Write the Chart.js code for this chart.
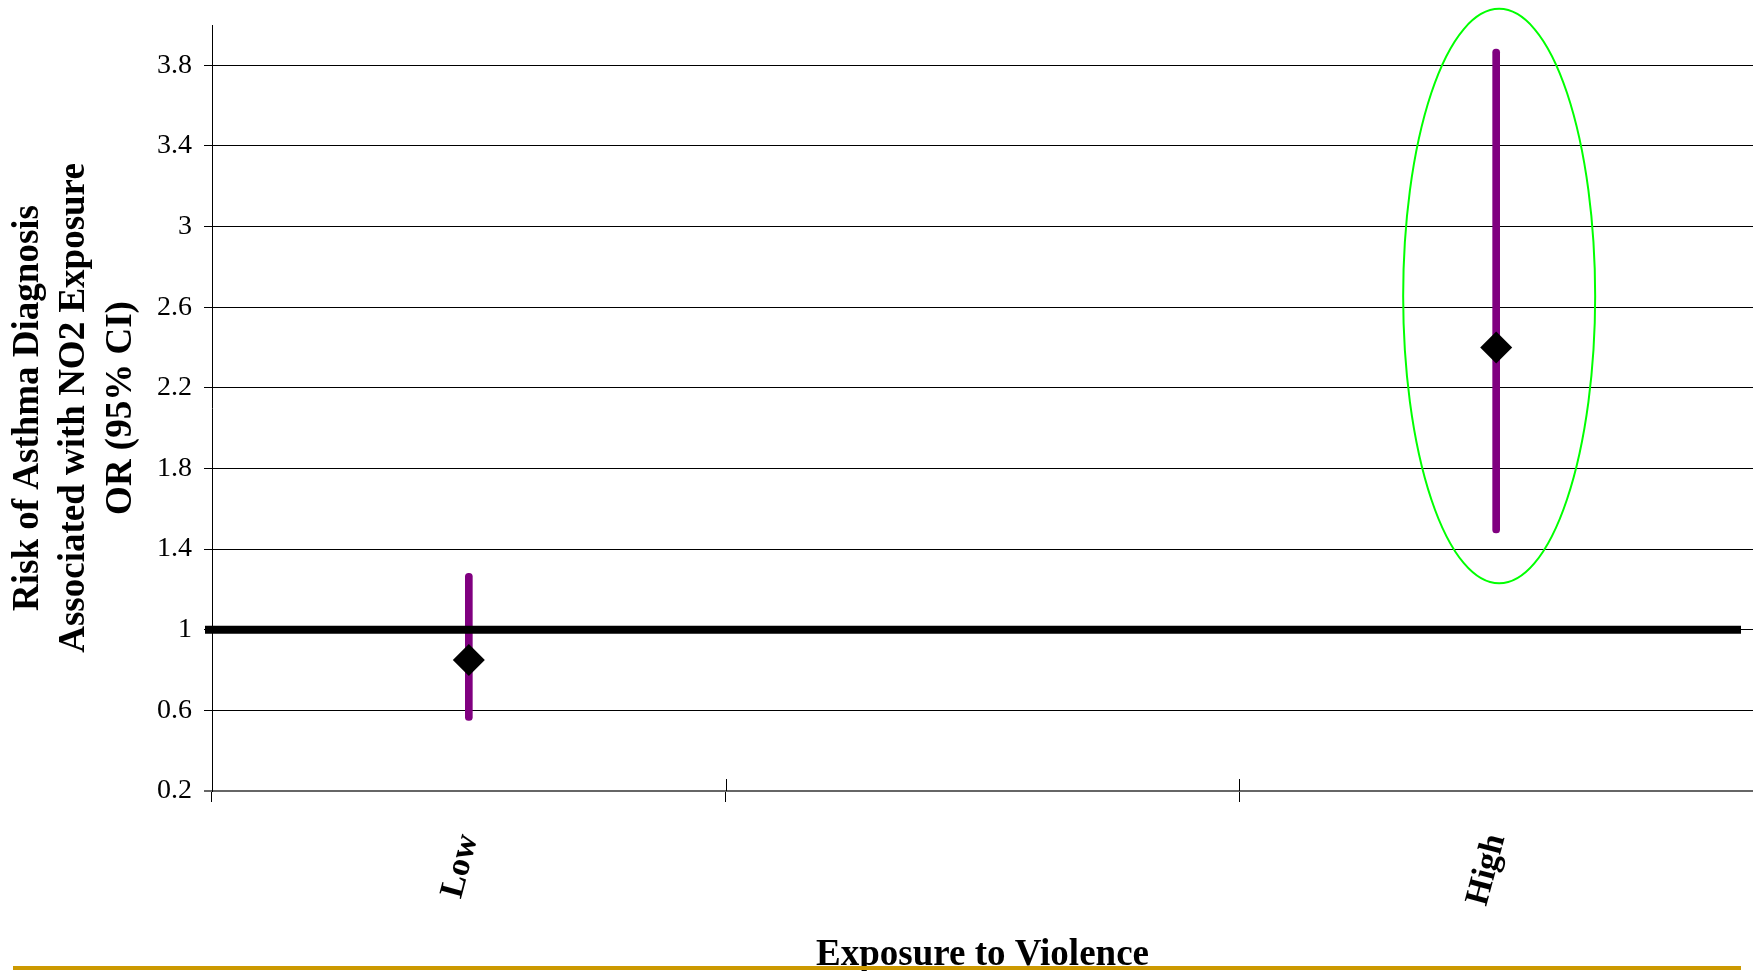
<!DOCTYPE html>
<html>
<head>
<meta charset="utf-8">
<title>Risk of Asthma Diagnosis by Exposure to Violence</title>
<script src="https://cdn.jsdelivr.net/npm/chart.js@4/dist/chart.umd.min.js"></script>
<style>
  html, body { margin: 0; padding: 0; background: #ffffff; }
  canvas { display: block; }
</style>
</head>
<body>
<canvas id="chart" width="1753" height="971"></canvas>
<script>
// Exposure-to-violence strata (the middle slot is an unlabeled spacer)
const categories = ['Low', '', 'High'];
// Odds ratios of asthma diagnosis associated with NO2 exposure
const oddsRatio = [0.85, null, 2.40];
// 95% confidence interval bounds
const ciLower = [0.55, null, 1.48];
const ciUpper = [1.28, null, 3.88];
// Value-axis ticks and range
const yTicks = [0.2, 0.6, 1, 1.4, 1.8, 2.2, 2.6, 3, 3.4, 3.8];
const yMin = 0.2;
const yMax = 4.0;
// Null-effect reference line (OR = 1)
const referenceOR = 1;
// Highlighted stratum and the value span its outline encloses
const highlightCategory = 'High';
const highlightRange = [1.23, 4.08];

const serif = '"Liberation Serif", "Times New Roman", Times, serif';

const ciBars = categories.map((_, i) =>
  ciLower[i] == null ? null : [ciLower[i], ciUpper[i]]
);

// Reference line, crossing ticks on the category axis, highlight ellipse, footer rule
const decorations = {
  id: 'decorations',
  afterDatasetsDraw(chart) {
    const { ctx, chartArea, scales } = chart;
    const y = scales.y;

    // OR = 1 line
    const yRef = y.getPixelForValue(referenceOR);
    ctx.save();
    ctx.strokeStyle = '#000000';
    ctx.lineWidth = 8;
    ctx.beginPath();
    ctx.moveTo(chartArea.left - 7, yRef);
    ctx.lineTo(chartArea.right - 12, yRef);
    ctx.stroke();
    ctx.restore();
  },
  afterDraw(chart) {
    const { ctx, chartArea, scales } = chart;
    const x = scales.x, y = scales.y;

    // upper half of the category-boundary ticks
    ctx.save();
    ctx.strokeStyle = '#000000';
    ctx.lineWidth = 1;
    for (let i = 0; i <= categories.length; i++) {
      const px = Math.round(x.getPixelForValue(i - 0.5)) + 0.5;
      ctx.beginPath();
      ctx.moveTo(px, chartArea.bottom - 12);
      ctx.lineTo(px, chartArea.bottom);
      ctx.stroke();
    }
    ctx.restore();

    // ellipse around the highlighted stratum
    const idx = categories.indexOf(highlightCategory);
    const cx = x.getPixelForValue(idx) + 3;
    const yTop = y.getPixelForValue(highlightRange[1]);
    const yBot = y.getPixelForValue(highlightRange[0]);
    ctx.save();
    ctx.strokeStyle = '#00ff00';
    ctx.lineWidth = 2;
    ctx.beginPath();
    ctx.ellipse(cx, (yTop + yBot) / 2, 96, (yBot - yTop) / 2, 0, 0, Math.PI * 2);
    ctx.stroke();
    ctx.restore();

    // footer rule
    ctx.save();
    ctx.fillStyle = '#cc9900';
    ctx.fillRect(13, 966, 1728, 4);
    ctx.restore();
  }
};

new Chart(document.getElementById('chart'), {
  type: 'bar',
  data: {
    labels: categories,
    datasets: [
      {
        type: 'line',
        label: 'OR',
        data: oddsRatio,
        showLine: false,
        pointStyle: 'rectRot',
        pointRadius: 16,
        pointHoverRadius: 16,
        pointBackgroundColor: '#000000',
        pointBorderColor: '#000000',
        pointBorderWidth: 0,
        order: 0
      },
      {
        label: '95% CI',
        data: ciBars,
        backgroundColor: '#800080',
        borderWidth: 0,
        barThickness: 7,
        borderRadius: 3.5,
        borderSkipped: false,
        order: 1
      }
    ]
  },
  options: {
    responsive: false,
    animation: false,
    layout: { autoPadding: false, padding: { top: 25, right: 0, left: 0, bottom: 0 } },
    plugins: {
      legend: { display: false },
      tooltip: { enabled: false }
    },
    scales: {
      x: {
        offset: true,
        grid: {
          display: true,
          offset: true,
          drawOnChartArea: false,
          drawTicks: true,
          tickLength: 11,
          color: '#000000',
          lineWidth: 1
        },
        border: { display: false },
        ticks: {
          autoSkip: false,
          minRotation: 75,
          maxRotation: 75,
          padding: 28,
          color: '#000000',
          font: { family: serif, size: 34, weight: 'bold', lineHeight: 1.2 }
        },
        title: {
          display: true,
          text: 'Exposure to Violence',
          color: '#000000',
          font: { family: serif, size: 37, weight: 'bold', lineHeight: 0.8 },
          padding: { top: 0, bottom: 1 }
        },
        afterFit(scale) {
          scale.height = 180;
          scale.paddingLeft = 0;
          scale.paddingRight = 0;
        }
      },
      y: {
        min: yMin,
        max: yMax,
        afterBuildTicks(scale) {
          scale.ticks = yTicks.map(v => ({ value: v }));
        },
        grid: {
          drawTicks: true,
          tickLength: 8,
          color: ctx => (ctx.tick && ctx.tick.value === yMin ? '#666666' : '#000000'),
          lineWidth: ctx => (ctx.tick && ctx.tick.value === yMin ? 2 : 1)
        },
        border: { display: true, color: '#000000', width: 1 },
        ticks: {
          padding: 12,
          color: '#000000',
          font: { family: serif, size: 28 },
          callback: v => String(v)
        },
        title: {
          display: true,
          text: ['Risk of Asthma Diagnosis', 'Associated with NO2 Exposure', 'OR (95% CI)'],
          color: '#000000',
          font: { family: serif, size: 37, weight: 'bold', lineHeight: 1.26 },
          padding: { top: 5, bottom: 0 }
        },
        afterFit(scale) {
          scale.width = 212;
          scale.paddingTop = 0;
          scale.paddingBottom = 0;
        }
      }
    }
  },
  plugins: [decorations]
});
</script>
</body>
</html>
